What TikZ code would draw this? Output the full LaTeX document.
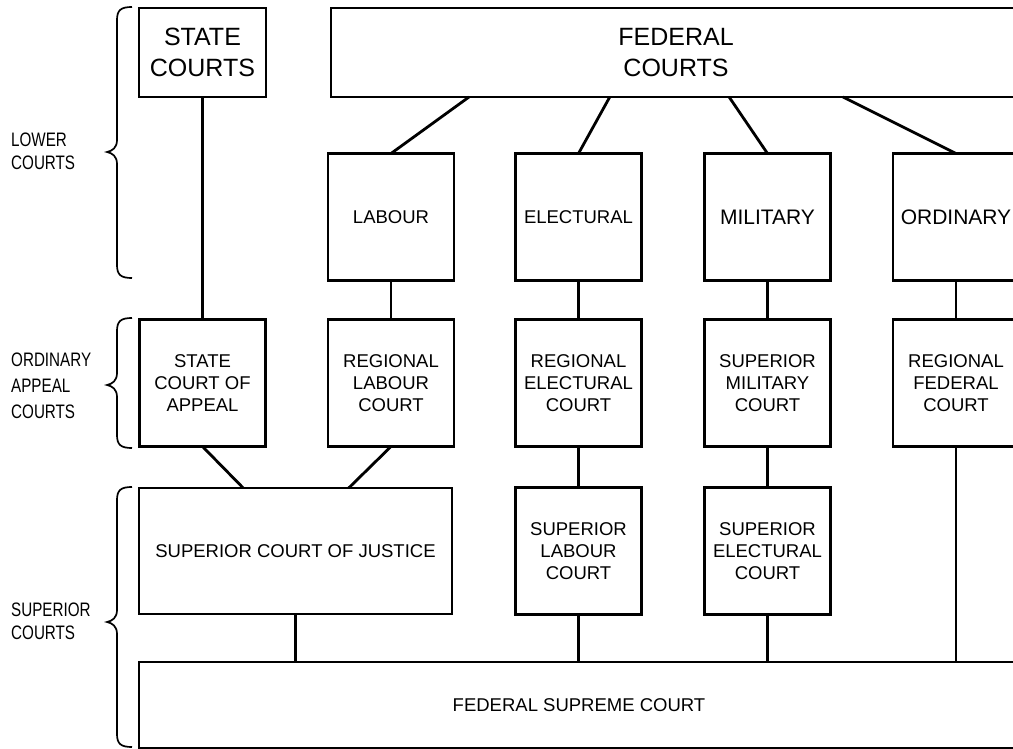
\documentclass[tikz,border=0pt]{standalone}
\usepackage{fontspec}
\setmainfont{Liberation Sans}
\newfontfamily\condfont{Liberation Sans}[FakeStretch=0.78]
\usetikzlibrary{calc}
\begin{document}
\begin{tikzpicture}[x=1pt,y=-1pt,
  box/.style={draw, line width=2.9pt, align=center, inner sep=0pt, outer sep=0pt,
              font=\fontsize{18.5}{22}\selectfont},
  big/.style={font=\fontsize{25}{31}\selectfont},
  mid/.style={font=\fontsize{21}{25}\selectfont},
  sq/.style={box, minimum width=126pt, minimum height=127pt},
  link/.style={line width=2.8pt},
  brc/.style={line width=1.7pt},
  lbl/.style={anchor=west, align=left, inner sep=0pt,
              font=\condfont\fontsize{19.5}{23}\selectfont}]
\useasboundingbox (0,0) rectangle (1013,749);
\clip (0,0) rectangle (1013,749);

% top row
\node[box, big, minimum width=127pt, minimum height=89pt] (sc) at (202.5,52.5) {STATE\\COURTS};
\node[box, big, minimum width=690pt, minimum height=89pt] (fc) at (676,52.5) {FEDERAL\\COURTS};

% lower courts
\node[sq] (lab) at (391,217) {LABOUR};
\node[sq] (ele) at (578.5,217) {ELECTURAL};
\node[sq, mid] (mil) at (767.5,217) {MILITARY};
\node[sq, mid] (ord) at (956,217) {ORDINARY};

% appeal courts
\node[sq] (sca) at (202.5,383) {STATE\\COURT OF\\APPEAL};
\node[sq] (rlc) at (391,383) {REGIONAL\\LABOUR\\COURT};
\node[sq] (rec) at (578.5,383) {REGIONAL\\ELECTURAL\\COURT};
\node[sq] (smc) at (767.5,383) {SUPERIOR\\MILITARY\\COURT};
\node[sq] (rfc) at (956,383) {REGIONAL\\FEDERAL\\COURT};

% superior courts
\node[box, minimum width=313pt, minimum height=126pt] (sj) at (295.5,551) {SUPERIOR COURT OF JUSTICE};
\node[sq] (slc) at (578.5,551) {SUPERIOR\\LABOUR\\COURT};
\node[sq] (sec) at (767.5,551) {SUPERIOR\\ELECTURAL\\COURT};
\node[box, minimum width=880pt, minimum height=86pt] (fsc) at (579,705) {FEDERAL SUPREME COURT};

% connectors
\draw[link] (sc) -- (sca);
\draw[link] ($(fc.south west)!0.2!(fc.south east)$) -- (lab.north);
\draw[link] ($(fc.south west)!0.404!(fc.south east)$) -- (ele.north);
\draw[link] ($(fc.south west)!0.577!(fc.south east)$) -- (mil.north);
\draw[link] ($(fc.south west)!0.742!(fc.south east)$) -- (ord.north);
\draw[link] (lab) -- (rlc);
\draw[link] (ele) -- (rec);
\draw[link] (mil) -- (smc);
\draw[link] (ord) -- (rfc);
\draw[link] (sca.south) -- ($(sj.north west)!0.333!(sj.north east)$);
\draw[link] (rlc.south) -- ($(sj.north west)!0.67!(sj.north east)$);
\draw[link] (rec) -- (slc);
\draw[link] (smc) -- (sec);
\draw[link] (sj.south) -- (sj.south |- fsc.north);
\draw[link] (slc.south) -- (slc.south |- fsc.north);
\draw[link] (sec.south) -- (sec.south |- fsc.north);
\draw[link] (rfc.south) -- (rfc.south |- fsc.north);

% braces
\draw[brc] (132,7) .. controls (121,7) and (117,10) .. (117,20) -- (117,140)
  .. controls (117,148) and (112,151) .. (107,152)
  .. controls (112,153) and (117,156) .. (117,164) -- (117,265)
  .. controls (117,275) and (121,278) .. (132,278);
\draw[brc] (132,318) .. controls (121,318) and (117,321) .. (117,331) -- (117,373)
  .. controls (117,381) and (112,384) .. (107,385)
  .. controls (112,386) and (117,389) .. (117,397) -- (117,435)
  .. controls (117,445) and (121,448) .. (132,448);
\draw[brc] (132,487) .. controls (121,487) and (117,490) .. (117,500) -- (117,610)
  .. controls (117,618) and (112,621) .. (107,622)
  .. controls (112,623) and (117,626) .. (117,634) -- (117,734)
  .. controls (117,744) and (121,747) .. (132,747);

% labels
\node[lbl] (lowl) at (11,151) {LOWER\\COURTS};
\node[lbl, font=\condfont\fontsize{19.5}{26}\selectfont] (appl) at (11,386) {ORDINARY\\APPEAL\\COURTS};
\node[lbl] (supl) at (11,621) {SUPERIOR\\COURTS};
\end{tikzpicture}
\end{document}
